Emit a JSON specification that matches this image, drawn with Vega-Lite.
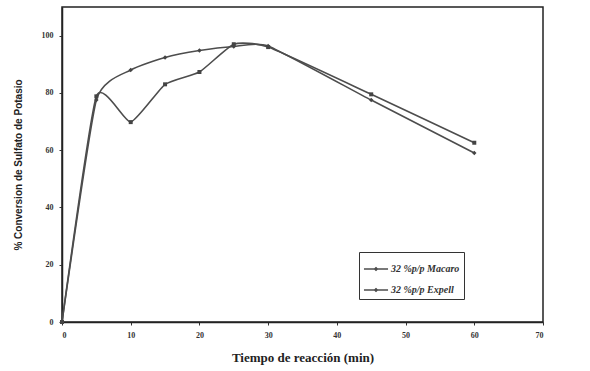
{
  "$schema": "https://vega.github.io/schema/vega-lite/v6.json",
  "width": 481,
  "height": 315,
  "autosize": {"type": "none"},
  "padding": {"left": 62, "top": 7, "right": 47, "bottom": 49},
  "background": "white",
  "config": {
    "view": {"stroke": "#222222", "strokeWidth": 1.5},
    "axis": {"grid": false, "domainColor": "#222222", "domainWidth": 1.5, "tickColor": "#333333", "tickSize": 3, "labelFont": "Liberation Serif", "labelFontSize": 8, "labelFontWeight": "bold", "labelColor": "#333333", "titleColor": "#222222"}
  },
  "data": {
    "values": [
      {"t": 0, "y": 0, "serie": "32 %p/p Macaro"},
      {"t": 5, "y": 77.5, "serie": "32 %p/p Macaro"},
      {"t": 10, "y": 88, "serie": "32 %p/p Macaro"},
      {"t": 15, "y": 92.4, "serie": "32 %p/p Macaro"},
      {"t": 20, "y": 94.8, "serie": "32 %p/p Macaro"},
      {"t": 25, "y": 96.2, "serie": "32 %p/p Macaro"},
      {"t": 30, "y": 96.4, "serie": "32 %p/p Macaro"},
      {"t": 45, "y": 77.5, "serie": "32 %p/p Macaro"},
      {"t": 60, "y": 59, "serie": "32 %p/p Macaro"},
      {"t": 0, "y": 0, "serie": "32 %p/p Expell"},
      {"t": 5, "y": 78.8, "serie": "32 %p/p Expell"},
      {"t": 10, "y": 69.8, "serie": "32 %p/p Expell"},
      {"t": 15, "y": 83, "serie": "32 %p/p Expell"},
      {"t": 20, "y": 87.3, "serie": "32 %p/p Expell"},
      {"t": 25, "y": 97, "serie": "32 %p/p Expell"},
      {"t": 30, "y": 96, "serie": "32 %p/p Expell"},
      {"t": 45, "y": 79.5, "serie": "32 %p/p Expell"},
      {"t": 60, "y": 62.6, "serie": "32 %p/p Expell"}
    ]
  },
  "encoding": {
    "x": {"field": "t", "type": "quantitative", "scale": {"domain": [0, 70], "nice": false}, "axis": {"values": [0, 10, 20, 30, 40, 50, 60, 70], "labelPadding": 6, "title": "Tiempo de reacción (min)", "titleFont": "Liberation Serif", "titleFontSize": 13, "titleFontWeight": "bold", "titlePadding": 12}},
    "y": {"field": "y", "type": "quantitative", "scale": {"domain": [0, 110], "nice": false}, "axis": {"values": [0, 20, 40, 60, 80, 100], "labelPadding": 6, "title": "% Conversion de Sulfato de Potasio", "titleFont": "Liberation Sans", "titleFontSize": 10, "titleFontWeight": "bold", "titlePadding": 18}}
  },
  "layer": [
    {
      "mark": {"type": "line", "interpolate": "cardinal", "tension": 0.5, "strokeWidth": 1.6},
      "encoding": {
        "color": {"field": "serie", "type": "nominal", "scale": {"domain": ["32 %p/p Macaro", "32 %p/p Expell"], "range": ["#4d4d4d", "#4d4d4d"]},
          "legend": {"title": null, "orient": "none", "legendX": 297, "legendY": 245, "strokeColor": "#333333", "padding": 4, "symbolType": "M-1,0H1M-0.12,0L0,-0.12L0.12,0L0,0.12Z", "symbolSize": 580, "symbolStrokeWidth": 1.3, "symbolFillColor": "#4d4d4d", "labelFont": "Liberation Serif", "labelFontStyle": "italic", "labelFontWeight": "bold", "labelFontSize": 10, "labelColor": "#333333", "rowPadding": 3, "labelOffset": 2}}
      }
    },
    {
      "transform": [{"filter": "datum.serie === '32 %p/p Macaro'"}],
      "mark": {"type": "point", "filled": true, "size": 20, "shape": "diamond", "color": "#444444", "opacity": 1}
    },
    {
      "transform": [{"filter": "datum.serie === '32 %p/p Expell'"}],
      "mark": {"type": "point", "filled": true, "size": 16, "shape": "square", "color": "#444444", "opacity": 1}
    }
  ]
}
